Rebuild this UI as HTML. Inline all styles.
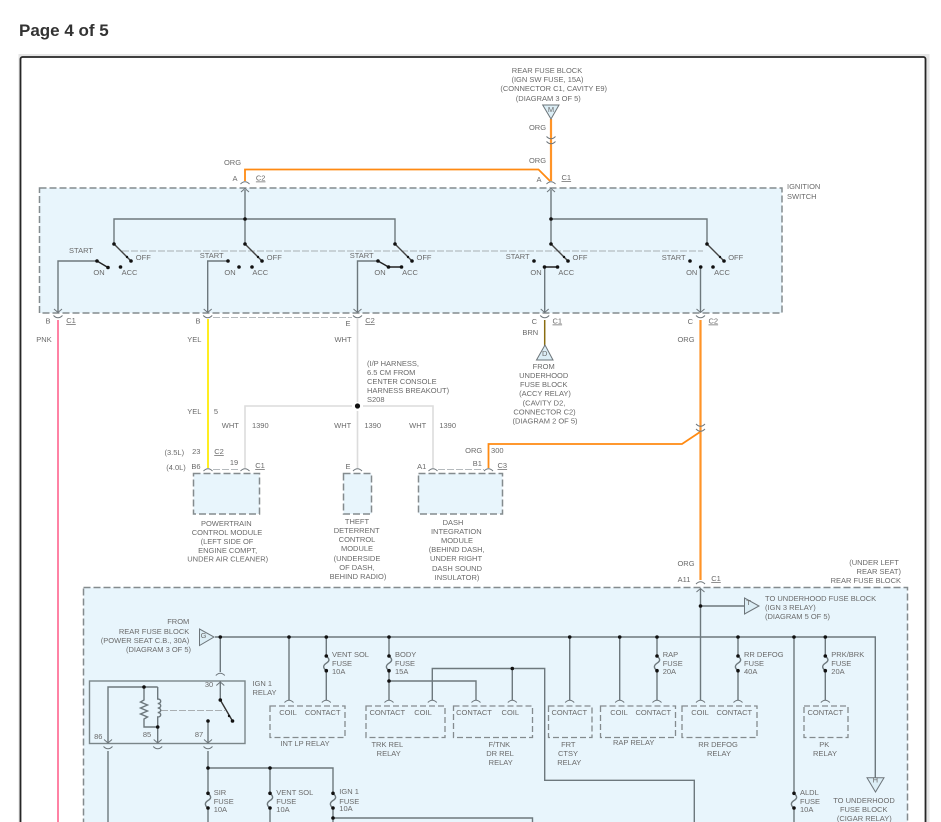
<!DOCTYPE html>
<html><head><meta charset="utf-8"><title>Page 4 of 5</title>
<style>
html,body{margin:0;padding:0;background:#fff;width:941px;height:822px;overflow:hidden}
svg{display:block;position:absolute;left:0;top:0}
text{font-family:"Liberation Sans",sans-serif;font-size:7.5px;fill:#6a6a6a}
.m text,text.m{text-anchor:middle}
.e text{text-anchor:end}
.w{fill:none;stroke:#6d787d;stroke-width:1.4}
.dash{fill:#e8f5fc;stroke:#848b8e;stroke-width:1.5;stroke-dasharray:7 3}
.dash2{fill:none;stroke:#b5babd;stroke-width:1;stroke-dasharray:7 2}
.tri{fill:#dceef6;stroke:#6d757a;stroke-width:1}
.k{fill:none;stroke:#6d757a;stroke-width:1}
</style></head><body>
<svg width="941" height="822" viewBox="0 0 941 822" xmlns="http://www.w3.org/2000/svg">
<defs>
<path id="n" class="k" d="M-4.5,2.5 Q0,-2 4.5,2.5"/>
<path id="u" class="k" d="M-4.5,-2.5 Q0,2 4.5,-2.5"/>
<path id="cd" class="k" d="M-4,-3.5 L0,0 L4,-3.5"/>
<path id="cu" class="k" d="M-4,3.5 L0,0 L4,3.5"/>
<path id="f" class="w" d="M0,0 C3.5,3 3.5,5 0,7.2 C-3.5,9.5 -3.5,12 0,14.6"/>
</defs>
<text x="19" y="36" style="font-size:17px;font-weight:bold;fill:#333">Page 4 of 5</text>

<!-- frame -->
<rect x="18.5" y="54" width="911" height="780" fill="#e6e6e6"/>
<rect x="20.5" y="57" width="905" height="780" rx="2" fill="#fff" stroke="#262626" stroke-width="1.8"/>

<!-- boxes -->
<rect class="dash" x="39.5" y="188" width="742.5" height="125"/>
<rect class="dash" x="83.5" y="587.5" width="824" height="260"/>
<rect class="dash" x="193.5" y="473.5" width="66" height="40.5"/>
<rect class="dash" x="343.5" y="473.5" width="28" height="40.5"/>
<rect class="dash" x="418.5" y="473.5" width="84" height="40.5"/>
<rect x="89.5" y="681" width="155.5" height="62.5" fill="#e8f5fc" stroke="#7a8689" stroke-width="1.4"/>
<g class="dash" style="stroke-width:1.3;stroke-dasharray:6 3">
<rect x="270" y="706" width="75" height="31.5"/><rect x="366" y="706" width="79" height="31.5"/>
<rect x="453.5" y="706" width="79" height="31.5"/><rect x="548.5" y="706" width="43.5" height="31.5"/>
<rect x="600.5" y="706" width="75" height="31.5"/><rect x="682" y="706" width="75" height="31.5"/>
<rect x="804" y="706" width="44" height="31.5"/>
</g>

<!-- colored wires -->
<g fill="none" stroke-width="2">
<path d="M245,181 V169.5 H538.5 L550,181" stroke="#ff8a12" stroke-width="1.8"/>
<path d="M551,119 V181" stroke="#ff9428" stroke-width="2.2"/>
<path d="M58,320 V822" stroke="#ff82a4"/>
<path d="M208,319 V468" stroke="#ffee22"/>
<path d="M544.7,320 V346" stroke="#8a6d10" stroke-width="1.5"/>
<path d="M700.5,320 V580" stroke="#ff9428" stroke-width="2.2"/>
<path d="M488.5,468 V444 H682 L700,432" stroke="#ff8a12" stroke-width="1.8"/>
<path d="M357.5,319 V402 M357.5,411 V468 M352,406 H245 V468 M363,406 H433 V468" stroke="#dcdcdc" stroke-width="1.6"/>
</g>
<path class="dash2" d="M213,317.5 H352 M213,469.5 H240 M438,469.5 H484"/>
<path class="dash2" d="M122,251 H703 M161,710.5 H225" style="stroke:#a9afb2"/>

<!-- switch wiring -->
<g class="w">
<path d="M245,190 V244 M551,190 V244 M114,244 V219 H395 V244 M551,219 H707 V244"/>
<path d="M114,244 L131,261 M245,244 L262,261 M395,244 L412,261 M551,244 L568,261 M707,244 L724,261" style="stroke:#444"/>
<path d="M58,312 V261 H97 M207.7,312 V261 H228 M357.5,312 V261 H378 M544.7,267 V312 M700.5,267 V312"/>
<path d="M97,261 L108,267.5 M378,261 L388.5,267 H401.5 M544.5,267 H557.5" style="stroke:#222;stroke-width:1.4"/>
<!-- lower wiring -->
<path d="M215,637 H875.3 V778"/>
<path d="M700.5,589 V700 M700.5,606 H745"/>
<path d="M220.3,637 V672 M220.3,681 V700 M108,743 V687 H157.7 M144,687 V700 l-3.5,2 7,3 -7,3 7,3 -7,3 7,3 -3.5,2 V727 H157.7 V743 M157.7,687 V699 c4,0 4,4.5 0,4.5 c4,0 4,4.5 0,4.5 c4,0 4,4.5 0,4.5 c4,0 4,4.5 0,4.5 V727"/>
<path d="M220.3,700 L232.5,721" style="stroke:#333"/>
<path d="M208,721 V743 M108,751 V822 M208,751 V793 M208,808 V822 M208,768 H333 V793 M333,808 V822 M270,768 V793 M270,808 V822 M333,818 H532.5 V822"/>
<path d="M289,637 V700 M326.3,637 V656 M326.3,670.7 V700 M389,637 V656 M389,670.7 V700 M389,681 H476 V700 M432.3,700 V668.5 H544.7 V780.3 H694.3 V822 M512.3,668.5 V700 M569.7,637 V700 M619.7,637 V700 M657,637 V656 M657,670.7 V700 M738,637 V656 M738,670.7 V700 M825.3,637 V656 M825.3,670.7 V700 M794,637 V793.3 M794,808 V822"/>
</g>
<!-- fuses -->
<use href="#f" x="326.3" y="656"/><use href="#f" x="389" y="656"/><use href="#f" x="657" y="656"/><use href="#f" x="738" y="656"/><use href="#f" x="825.3" y="656"/>
<use href="#f" x="794" y="793.3"/><use href="#f" x="208" y="793.3"/><use href="#f" x="270" y="793.3"/><use href="#f" x="333" y="793.3"/>

<!-- dots -->
<g fill="#111">
<circle cx="245" cy="219" r="1.8"/><circle cx="551" cy="219" r="1.8"/>
<circle cx="114" cy="244" r="1.8"/><circle cx="245" cy="244" r="1.8"/><circle cx="395" cy="244" r="1.8"/><circle cx="551" cy="244" r="1.8"/><circle cx="707" cy="244" r="1.8"/>
<circle cx="131" cy="261" r="1.8"/><circle cx="262" cy="261" r="1.8"/><circle cx="412" cy="261" r="1.8"/><circle cx="568" cy="261" r="1.8"/><circle cx="724" cy="261" r="1.8"/>
<circle cx="127" cy="257" r="1.2"/><circle cx="258" cy="257" r="1.2"/><circle cx="408" cy="257" r="1.2"/><circle cx="564" cy="257" r="1.2"/><circle cx="720" cy="257" r="1.2"/>
<circle cx="97" cy="261" r="1.8"/><circle cx="108" cy="267.5" r="1.8"/><circle cx="120.5" cy="267" r="1.8"/>
<circle cx="228" cy="261" r="1.8"/><circle cx="239" cy="267" r="1.8"/><circle cx="252" cy="267" r="1.8"/>
<circle cx="378" cy="261" r="1.8"/><circle cx="388.5" cy="267" r="1.8"/><circle cx="401.5" cy="267" r="1.8"/>
<circle cx="534" cy="261" r="1.8"/><circle cx="544.5" cy="267" r="1.8"/><circle cx="557.5" cy="267" r="1.8"/>
<circle cx="690" cy="261" r="1.8"/><circle cx="700.7" cy="267" r="1.8"/><circle cx="713" cy="267" r="1.8"/>
<circle cx="357.5" cy="406" r="2.6"/>
<circle cx="700.5" cy="606" r="1.8"/>
<circle cx="220.3" cy="637" r="1.8"/><circle cx="289" cy="637" r="1.8"/><circle cx="326.3" cy="637" r="1.8"/><circle cx="389" cy="637" r="1.8"/><circle cx="569.7" cy="637" r="1.8"/><circle cx="619.7" cy="637" r="1.8"/><circle cx="657" cy="637" r="1.8"/><circle cx="738" cy="637" r="1.8"/><circle cx="794" cy="637" r="1.8"/><circle cx="825.3" cy="637" r="1.8"/>
<circle cx="326.3" cy="656" r="1.8"/><circle cx="326.3" cy="670.7" r="1.8"/><circle cx="389" cy="656" r="1.8"/><circle cx="389" cy="670.7" r="1.8"/><circle cx="389" cy="681" r="1.8"/>
<circle cx="657" cy="656" r="1.8"/><circle cx="657" cy="670.7" r="1.8"/><circle cx="738" cy="656" r="1.8"/><circle cx="738" cy="670.7" r="1.8"/><circle cx="825.3" cy="656" r="1.8"/><circle cx="825.3" cy="670.7" r="1.8"/>
<circle cx="512.3" cy="668.5" r="1.8"/>
<circle cx="144" cy="687" r="1.8"/><circle cx="157.7" cy="727" r="1.8"/><circle cx="220.3" cy="700" r="1.8"/><circle cx="232.5" cy="721" r="1.8"/><circle cx="229" cy="716" r="1.2"/><circle cx="208" cy="721" r="1.8"/>
<circle cx="208" cy="768" r="1.8"/><circle cx="270" cy="768" r="1.8"/>
<circle cx="208" cy="793.3" r="1.8"/><circle cx="208" cy="808" r="1.8"/><circle cx="270" cy="793.3" r="1.8"/><circle cx="270" cy="808" r="1.8"/><circle cx="333" cy="793.3" r="1.8"/><circle cx="333" cy="808" r="1.8"/><circle cx="333" cy="818" r="1.8"/>
<circle cx="794" cy="793.3" r="1.8"/><circle cx="794" cy="808" r="1.8"/>
</g>

<!-- connectors -->
<use href="#n" x="245" y="181.5"/><use href="#cu" x="245" y="188.5"/>
<use href="#n" x="551" y="181.5"/><use href="#cu" x="551" y="188.5"/>
<use href="#u" x="551" y="139"/><use href="#u" x="551" y="144"/>
<use href="#cd" x="58" y="312.5"/><use href="#u" x="58" y="318"/>
<use href="#cd" x="207.7" y="312.5"/><use href="#u" x="207.7" y="318"/>
<use href="#cd" x="357.5" y="312.5"/><use href="#u" x="357.5" y="318"/>
<use href="#cd" x="544.7" y="312.5"/><use href="#u" x="544.7" y="318"/>
<use href="#cd" x="700.5" y="312.5"/><use href="#u" x="700.5" y="318"/>
<use href="#u" x="700.5" y="426.5"/><use href="#u" x="700.5" y="431.5"/>
<use href="#n" x="208" y="468.5"/><use href="#n" x="245" y="468.5"/><use href="#n" x="357.5" y="468.5"/><use href="#n" x="433" y="468.5"/><use href="#n" x="488.5" y="468.5"/>
<use href="#n" x="700.5" y="581.5"/><use href="#cu" x="700.5" y="588.5"/>
<use href="#n" x="220.3" y="673"/><use href="#cu" x="220.3" y="682"/>
<use href="#cd" x="108" y="743"/><use href="#u" x="108" y="749"/><use href="#cd" x="157.7" y="743"/><use href="#u" x="157.7" y="749"/><use href="#cd" x="208" y="743"/><use href="#u" x="208" y="749"/>
<use href="#n" x="289" y="700"/><use href="#n" x="326.3" y="700"/><use href="#n" x="389" y="700"/><use href="#n" x="432.3" y="700"/><use href="#n" x="476" y="700"/><use href="#n" x="512.3" y="700"/><use href="#n" x="569.7" y="700"/><use href="#n" x="619.7" y="700"/><use href="#n" x="657" y="700"/><use href="#n" x="700.5" y="700"/><use href="#n" x="738" y="700"/><use href="#n" x="825.3" y="700"/>

<!-- triangles -->
<polygon class="tri" points="542.7,105 559,105 551,119"/>
<polygon class="tri" points="545,345 536.5,360 553,360"/>
<polygon class="tri" points="744.5,598 744.5,614 759,606"/>
<polygon class="tri" points="199.5,629 199.5,645.5 214,637"/>
<polygon class="tri" points="867,777.7 884,777.7 875.5,792"/>

<!-- centered labels -->
<g class="m">
<text x="547" y="73">REAR FUSE BLOCK</text><text x="547.5" y="82">(IGN SW FUSE, 15A)</text><text x="553.7" y="91">(CONNECTOR C1, CAVITY E9)</text><text x="548.3" y="101">(DIAGRAM 3 OF 5)</text>
<text x="551" y="112">M</text><text x="537.5" y="130">ORG</text><text x="537.5" y="163">ORG</text>
<text x="539" y="182">A</text><text x="566.3" y="180" text-decoration="underline">C1</text>
<text x="232.5" y="165">ORG</text><text x="235" y="181">A</text><text x="260.7" y="180.5" text-decoration="underline">C2</text>
<text x="81" y="253">START</text><text x="211.7" y="258">START</text><text x="361.7" y="258">START</text><text x="517.7" y="259">START</text><text x="673.7" y="260">START</text>
<text x="99" y="275">ON</text><text x="129.5" y="275">ACC</text><text x="143.3" y="260">OFF</text>
<text x="230" y="275">ON</text><text x="260.3" y="275">ACC</text><text x="274.3" y="260">OFF</text>
<text x="380" y="275">ON</text><text x="410" y="275">ACC</text><text x="424" y="260">OFF</text>
<text x="536" y="275">ON</text><text x="566.3" y="275">ACC</text><text x="580" y="260">OFF</text>
<text x="691.7" y="275">ON</text><text x="722" y="275">ACC</text><text x="735.7" y="260">OFF</text>
<text x="48" y="323.5">B</text><text x="71" y="323" text-decoration="underline">C1</text>
<text x="198" y="323.5">B</text><text x="348" y="326">E</text><text x="370" y="323" text-decoration="underline">C2</text>
<text x="534.3" y="323.8">C</text><text x="557.3" y="323.5" text-decoration="underline">C1</text>
<text x="690.3" y="323.8">C</text><text x="713.3" y="323.5" text-decoration="underline">C2</text>
<text x="44" y="342">PNK</text><text x="194.3" y="342">YEL</text><text x="343" y="342">WHT</text><text x="530.3" y="335">BRN</text><text x="686" y="342">ORG</text>
<text x="194.3" y="414">YEL</text><text x="216" y="414">5</text>
<text x="230.3" y="428">WHT</text><text x="260.3" y="428">1390</text><text x="342.7" y="428">WHT</text><text x="372.7" y="428">1390</text><text x="417.7" y="428">WHT</text><text x="447.7" y="428">1390</text>
<text x="174.3" y="455">(3.5L)</text><text x="196.3" y="454">23</text><text x="219" y="454" text-decoration="underline">C2</text>
<text x="176" y="470">(4.0L)</text><text x="196" y="469">B6</text><text x="234" y="465">19</text><text x="260" y="468" text-decoration="underline">C1</text>
<text x="348" y="469">E</text><text x="421.7" y="469">A1</text><text x="477.3" y="466">B1</text><text x="502.3" y="468" text-decoration="underline">C3</text><text x="473.7" y="453">ORG</text><text x="497.3" y="453">300</text>
<text x="226.3" y="526">POWERTRAIN</text><text x="227" y="535">CONTROL MODULE</text><text x="227" y="544">(LEFT SIDE OF</text><text x="227.7" y="553">ENGINE COMPT,</text><text x="227.7" y="561.7">UNDER AIR CLEANER)</text>
<text x="357" y="524">THEFT</text><text x="356.7" y="533">DETERRENT</text><text x="357" y="542">CONTROL</text><text x="357" y="551">MODULE</text><text x="357" y="561">(UNDERSIDE</text><text x="357" y="570">OF DASH,</text><text x="358" y="579">BEHIND RADIO)</text>
<text x="453" y="525">DASH</text><text x="456.3" y="534">INTEGRATION</text><text x="457" y="543">MODULE</text><text x="456.7" y="552">(BEHIND DASH,</text><text x="456" y="561">UNDER RIGHT</text><text x="457" y="571">DASH SOUND</text><text x="457" y="580">INSULATOR)</text>
<text x="543.7" y="369">FROM</text><text x="543.7" y="378">UNDERHOOD</text><text x="543.7" y="387">FUSE BLOCK</text><text x="545" y="396">(ACCY RELAY)</text><text x="544" y="405.5">(CAVITY D2,</text><text x="544.5" y="414.5">CONNECTOR C2)</text><text x="545" y="423.5">(DIAGRAM 2 OF 5)</text>
<text x="544.7" y="356">D</text>
<text x="686" y="566">ORG</text><text x="684" y="582">A11</text><text x="716" y="581" text-decoration="underline">C1</text>
<text x="874" y="565">(UNDER LEFT</text>
<text x="748.5" y="605">T</text><text x="203.5" y="638">G</text><text x="875.3" y="782.5">H</text>
<text x="209" y="687">30</text><text x="98.3" y="739">86</text><text x="147" y="737">85</text><text x="199" y="737">87</text>
<text x="288" y="715">COIL</text><text x="322.7" y="715">CONTACT</text><text x="305" y="746">INT LP RELAY</text>
<text x="387.3" y="715">CONTACT</text><text x="423" y="715">COIL</text><text x="387.3" y="747">TRK REL</text><text x="388.7" y="756">RELAY</text>
<text x="474" y="715">CONTACT</text><text x="510.3" y="715">COIL</text><text x="499.3" y="747">F/TNK</text><text x="500" y="756">DR REL</text><text x="500.7" y="765">RELAY</text>
<text x="569.3" y="715">CONTACT</text><text x="568.3" y="747">FRT</text><text x="568" y="756">CTSY</text><text x="569.3" y="765">RELAY</text>
<text x="619" y="715">COIL</text><text x="653.3" y="715">CONTACT</text><text x="633.7" y="745">RAP RELAY</text>
<text x="700" y="715">COIL</text><text x="734.3" y="715">CONTACT</text><text x="718" y="747">RR DEFOG</text><text x="719" y="756">RELAY</text>
<text x="825.3" y="715">CONTACT</text><text x="824.3" y="747">PK</text><text x="825" y="756">RELAY</text>
<text x="864" y="803">TO UNDERHOOD</text><text x="863.7" y="812">FUSE BLOCK</text><text x="864.3" y="821">(CIGAR RELAY)</text>
</g>

<!-- left aligned labels -->
<g>
<text x="787" y="189">IGNITION</text><text x="787" y="199">SWITCH</text>
<text x="367" y="366">(I/P HARNESS,</text><text x="367" y="375">6.5 CM FROM</text><text x="367" y="384">CENTER CONSOLE</text><text x="367" y="393">HARNESS BREAKOUT)</text><text x="367" y="402">S208</text>
<text x="765" y="601">TO UNDERHOOD FUSE BLOCK</text><text x="765" y="610">(IGN 3 RELAY)</text><text x="765" y="619">(DIAGRAM 5 OF 5)</text>
<text x="332" y="657">VENT SOL</text><text x="332" y="666">FUSE</text><text x="332" y="674">10A</text>
<text x="395" y="657">BODY</text><text x="395" y="666">FUSE</text><text x="395" y="674">15A</text>
<text x="662.7" y="657">RAP</text><text x="662.7" y="666">FUSE</text><text x="662.7" y="674">20A</text>
<text x="744" y="657">RR DEFOG</text><text x="744" y="666">FUSE</text><text x="744" y="674">40A</text>
<text x="831.3" y="657">PRK/BRK</text><text x="831.3" y="666">FUSE</text><text x="831.3" y="674">20A</text>
<text x="252.5" y="686">IGN 1</text><text x="252.5" y="695">RELAY</text>
<text x="800" y="795">ALDL</text><text x="800" y="804">FUSE</text><text x="800" y="812">10A</text>
<text x="213.7" y="795">SIR</text><text x="213.7" y="804">FUSE</text><text x="213.7" y="812">10A</text>
<text x="276.3" y="795">VENT SOL</text><text x="276.3" y="804">FUSE</text><text x="276.3" y="812">10A</text>
<text x="339.3" y="794">IGN 1</text><text x="339.3" y="804">FUSE</text><text x="339.3" y="811">10A</text>
</g>

<!-- right aligned labels -->
<g class="e">
<text x="901" y="574">REAR SEAT)</text><text x="901" y="583">REAR FUSE BLOCK</text>
<text x="189.3" y="624">FROM</text><text x="189.3" y="634">REAR FUSE BLOCK</text><text x="189.3" y="643">(POWER SEAT C.B., 30A)</text><text x="191" y="652">(DIAGRAM 3 OF 5)</text>
</g>
</svg>
</body></html>
